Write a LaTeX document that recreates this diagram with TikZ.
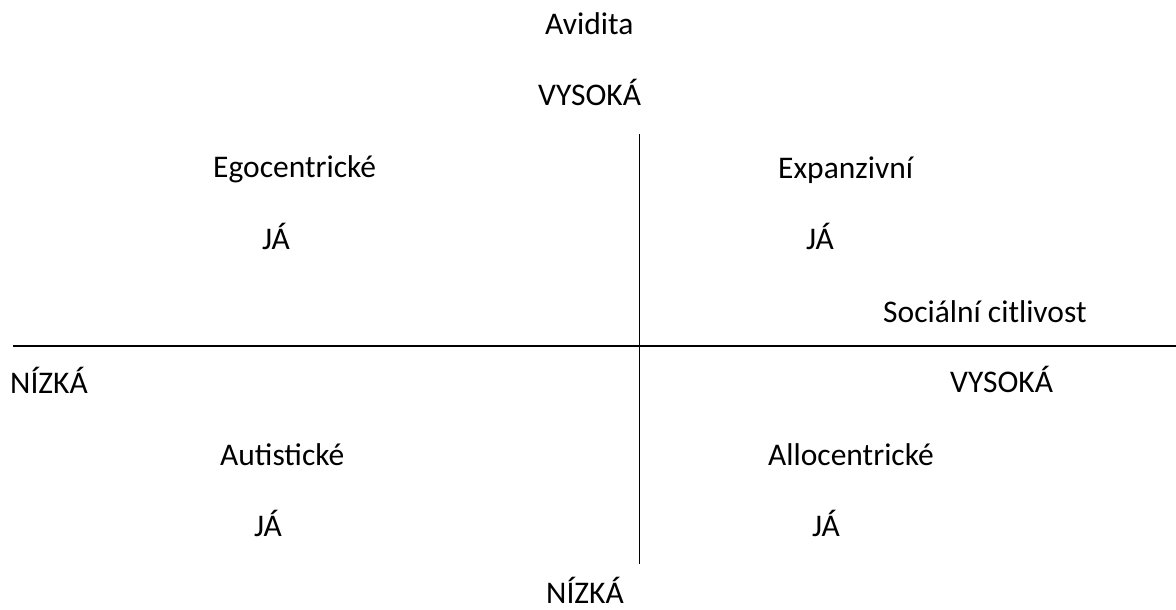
\documentclass[tikz,border=0pt]{standalone}
\usepackage{fontspec}
\setmainfont{Carlito}
\begin{document}
\begin{tikzpicture}[x=1pt,y=-1pt,
  lbl/.style={inner sep=0pt, anchor=base west, font=\fontsize{31.5}{36}\selectfont},
  axis/.style={line width=1.8pt, black}]
\useasboundingbox (0,0) rectangle (1176,610);
% axes
\coordinate (vtop) at (639.5,134);
\coordinate (vbot) at (639.5,564);
\coordinate (hleft) at (13,346);
\coordinate (hright) at (1176,346);
\draw[axis] (vtop) -- (vbot);
\draw[axis] (hleft) -- (hright);
% axis labels
\node[lbl] (avid) at (545,35) {Avidita};
\node[lbl] (vtopl) at (538,106) {VYSOKÁ};
\node[lbl] (vbotl) at (546,603.5) {NÍZKÁ};
\node[lbl] (soc) at (883,322) {Sociální citlivost};
\node[lbl] (hlo) at (10,393) {NÍZKÁ};
\node[lbl] (hhi) at (950,392) {VYSOKÁ};
% quadrants
\node[lbl] (ego) at (213,177) {Egocentrické};
\node[lbl] (egoja) at (262,249) {JÁ};
\node[lbl] (exp) at (778,178) {Expanzivní};
\node[lbl] (expja) at (806,249) {JÁ};
\node[lbl] (aut) at (220,465) {Autistické};
\node[lbl] (autja) at (254,536) {JÁ};
\node[lbl] (allo) at (768,465) {Allocentrické};
\node[lbl] (alloja) at (812,536) {JÁ};
\end{tikzpicture}
\end{document}
